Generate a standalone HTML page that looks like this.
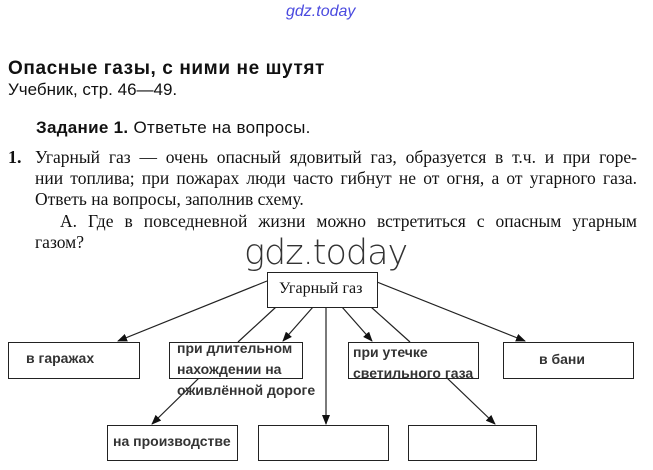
<!DOCTYPE html>
<html><head><meta charset="utf-8"><style>
body{margin:0;width:653px;height:470px;background:#fff;position:relative;overflow:hidden;font-family:"Liberation Sans",sans-serif;color:#111}
.a{position:absolute;white-space:nowrap}
.s{font-family:"Liberation Serif",serif;font-size:17.5px}
.b{position:absolute;border:1.5px solid #222;box-sizing:border-box;background:#fff}
.t{position:absolute;font-size:14px;font-weight:bold;color:#333;white-space:nowrap;line-height:21px}
</style></head><body>
<div class="a" style="left:286px;top:3px;font-size:16px;color:#4a4adf;font-style:italic">gdz.today</div>
<div class="a" style="left:8px;top:58px;font-size:19px;font-weight:bold;letter-spacing:0.6px">Опасные газы, с ними не шутят</div>
<div class="a" style="left:8px;top:80px;font-size:17px">Учебник, стр. 46—49.</div>
<div class="a" style="left:36px;top:118px;font-size:17px;letter-spacing:0.3px"><b>Задание 1.</b> Ответьте на вопросы.</div>
<div class="a s" style="left:8px;top:147px;font-weight:bold;font-size:18px">1.</div>
<div class="a s" style="left:35px;top:147px;width:602px;text-align:justify;text-align-last:justify;white-space:normal">Угарный газ — очень опасный ядовитый газ, образуется в т.ч. и при горе-</div>
<div class="a s" style="left:35px;top:168px;width:602px;text-align-last:justify;white-space:normal">нии топлива; при пожарах люди часто гибнут не от огня, а от угарного газа.</div>
<div class="a s" style="left:35px;top:189px">Ответь на вопросы, заполнив схему.</div>
<div class="a s" style="left:60px;top:211px;width:577px;text-align-last:justify;white-space:normal">А. Где в повседневной жизни можно встретиться с опасным угарным</div>
<div class="a s" style="left:35px;top:232px">газом?</div>
<div class="a" style="left:244px;top:233px;font-size:35px;color:#333;font-family:'DejaVu Sans',sans-serif;font-weight:300;letter-spacing:-1px">gdz.today</div>
<svg class="a" style="left:0;top:0" width="653" height="470">
<defs><marker id="m" markerWidth="10" markerHeight="8" refX="9" refY="4" orient="auto" markerUnits="userSpaceOnUse"><path d="M0,0L10,4L0,8z" fill="#111"/></marker></defs>
<g stroke="#222" stroke-width="1.2" fill="none">
<line x1="267" y1="281" x2="118" y2="341" marker-end="url(#m)"/>
<line x1="276" y1="307" x2="238" y2="342"/>
<line x1="313" y1="307" x2="283" y2="341" marker-end="url(#m)"/>
<line x1="326" y1="307" x2="326" y2="424" marker-end="url(#m)"/>
<line x1="342" y1="307" x2="372" y2="341" marker-end="url(#m)"/>
<line x1="371" y1="307" x2="410" y2="342"/>
<line x1="377" y1="282" x2="525" y2="341" marker-end="url(#m)"/>
<line x1="199" y1="378" x2="152" y2="424" marker-end="url(#m)"/>
<line x1="447" y1="378" x2="495" y2="424" marker-end="url(#m)"/>
</g></svg>
<div class="b" style="left:267px;top:272px;width:111px;height:36px"></div>
<div class="a s" style="left:279px;top:280px;font-size:16px">Угарный газ</div>
<div class="b" style="left:8px;top:342px;width:132px;height:37px"></div>
<div class="t" style="left:26px;top:348px">в гаражах</div>
<div class="b" style="left:169px;top:342px;width:134px;height:37px"></div>
<div class="t" style="left:177px;top:338px">при длительном<br>нахождении на<br>оживлённой дороге</div>
<div class="b" style="left:348px;top:342px;width:131px;height:37px"></div>
<div class="t" style="left:353px;top:342px">при утечке<br>светильного газа</div>
<div class="b" style="left:503px;top:342px;width:131px;height:37px"></div>
<div class="t" style="left:539px;top:349px">в бани</div>
<div class="b" style="left:107px;top:425px;width:131px;height:36px"></div>
<div class="t" style="left:113px;top:431px">на производстве</div>
<div class="b" style="left:258px;top:425px;width:131px;height:36px"></div>
<div class="b" style="left:408px;top:425px;width:129px;height:36px"></div>
</body></html>
